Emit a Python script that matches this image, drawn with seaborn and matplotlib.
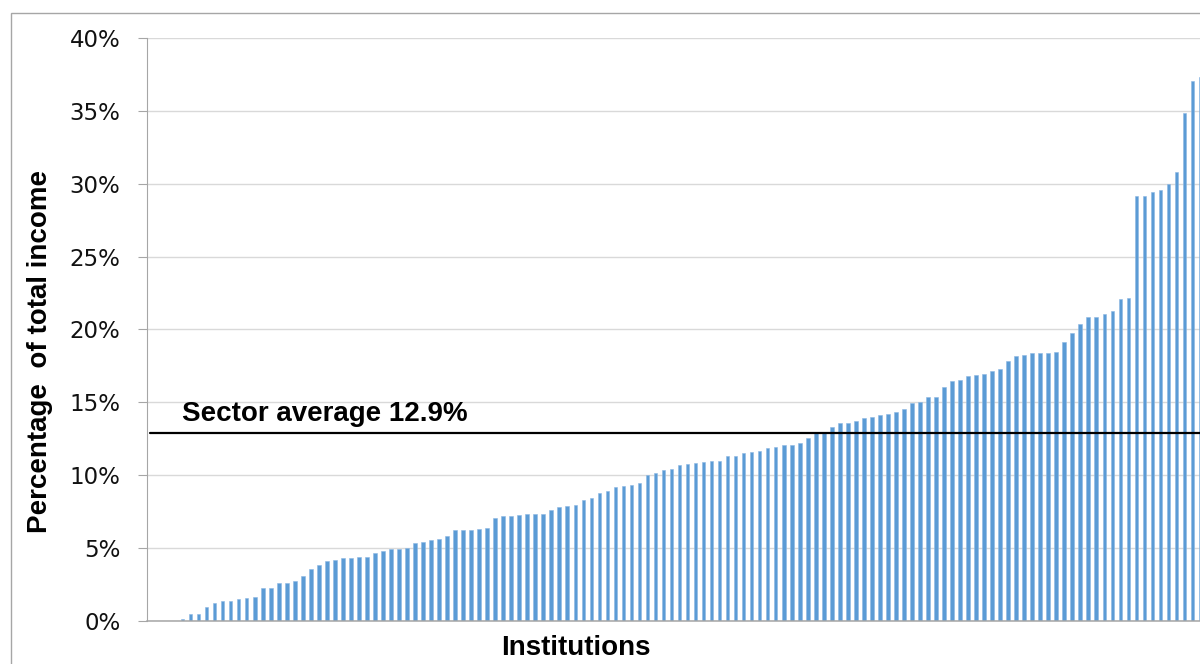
import matplotlib
matplotlib.use("Agg")
import matplotlib.pyplot as plt
from matplotlib.patches import Rectangle
import seaborn as sns
import pandas as pd

# Share of total income by institution, sorted ascending (percent)
share_pct = [
    0.0, 0.0, 0.0, 0.0,
    0.10, 0.45, 0.45, 0.90, 1.17, 1.36, 1.36, 1.46, 1.53, 1.62,
    2.23, 2.23, 2.60, 2.60, 2.72, 3.06, 3.57, 3.83, 4.10, 4.19,
    4.29, 4.29, 4.38, 4.38, 4.63, 4.79, 4.91, 4.91, 4.98, 5.32,
    5.41, 5.53, 5.60, 5.78, 6.22, 6.22, 6.22, 6.31, 6.38, 7.01,
    7.15, 7.15, 7.22, 7.31, 7.31, 7.31, 7.59, 7.77, 7.86, 7.93,
    8.30, 8.39, 8.74, 8.90, 9.15, 9.24, 9.33, 9.43, 9.98, 10.14,
    10.32, 10.39, 10.67, 10.77, 10.79, 10.88, 10.97, 10.97, 11.31, 11.31,
    11.49, 11.58, 11.67, 11.82, 11.91, 12.09, 12.09, 12.18, 12.52, 12.85,
    12.95, 13.29, 13.56, 13.56, 13.72, 13.89, 13.98, 14.15, 14.22, 14.32,
    14.50, 14.93, 15.02, 15.37, 15.37, 16.05, 16.44, 16.53, 16.78, 16.85,
    16.94, 17.15, 17.28, 17.83, 18.15, 18.26, 18.36, 18.35, 18.35, 18.45,
    19.13, 19.75, 20.37, 20.82, 20.82, 21.07, 21.26, 22.06, 22.13, 29.15,
    29.15, 29.42, 29.60, 30.02, 30.82, 34.86, 37.08, 37.36,
]
institutions = [f"Inst {i + 1}" for i in range(len(share_pct))]
sector_average = 12.9
y_ticks = [0, 5, 10, 15, 20, 25, 30, 35, 40]
y_tick_labels = [f"{t}%" for t in y_ticks]

df = pd.DataFrame({"institution": institutions, "share": share_pct})

sns.set_theme(style="white")
plt.rcParams["font.family"] = ["DejaVu Sans"]

W, H = 1200, 664
fig = plt.figure(figsize=(W / 100, H / 100), dpi=100)

# outer chart frame
fig.patches.append(Rectangle((10.5 / W, -0.1), 1.2, 1 - 13.3 / H + 0.1,
                             transform=fig.transFigure, fill=False,
                             edgecolor="#a6a6a6", linewidth=1.0, zorder=0))

ax_left, ax_right = 146.5, 1204.5
ax_top, ax_bottom = 38.3, 620.5
ax = fig.add_axes([ax_left / W, 1 - ax_bottom / H,
                   (ax_right - ax_left) / W, (ax_bottom - ax_top) / H])
ax.set_facecolor("none")

sns.barplot(data=df, x="institution", y="share", ax=ax,
            color="#5B9BD5", saturation=1, width=0.45,
            edgecolor="#8db8e3", linewidth=0.4, zorder=3)

n = len(share_pct)
ax.set_xlim(-0.5, n - 0.5)
ax.set_ylim(0, 40)
ax.set_yticks(y_ticks)
ax.set_yticklabels(y_tick_labels, fontsize=16.5, color="#111111")
ax.set_xticks([])
ax.set_xlabel("")
ax.set_ylabel("")

ax.yaxis.grid(True, color="#d9d9d9", linewidth=1.0, zorder=0)
ax.set_axisbelow(True)
ax.tick_params(axis="y", which="major", direction="out", length=6.8,
               width=0.8, color="#a6a6a6", pad=12, left=True)

for side in ["top", "right"]:
    ax.spines[side].set_visible(False)
ax.spines["left"].set_color("#a6a6a6")
ax.spines["left"].set_linewidth(0.8)
ax.spines["bottom"].set_color("#a6a6a6")
ax.spines["bottom"].set_linewidth(1.1)
ax.spines["bottom"].set_zorder(5)

# sector average reference line
ax.axhline(sector_average, xmin=(150 - ax_left) / (ax_right - ax_left), xmax=1,
           color="black", linewidth=1.6, zorder=6)
fig.text(181.7 / W, 1 - 421 / H, f"Sector average {sector_average}%",
         fontsize=20, fontweight="bold", family=["Liberation Sans"],
         ha="left", va="baseline", color="black")

fig.text(576 / W, 1 - 655 / H, "Institutions", fontsize=20,
         fontweight="bold", family=["Liberation Sans"],
         ha="center", va="baseline", color="black")
fig.text(40 / W, 1 - 351.5 / H, "Percentage  of total income", fontsize=20,
         fontweight="bold", family=["Liberation Sans"], rotation=90,
         ha="center", va="center", color="black")

fig.savefig("out.png", dpi=100)
